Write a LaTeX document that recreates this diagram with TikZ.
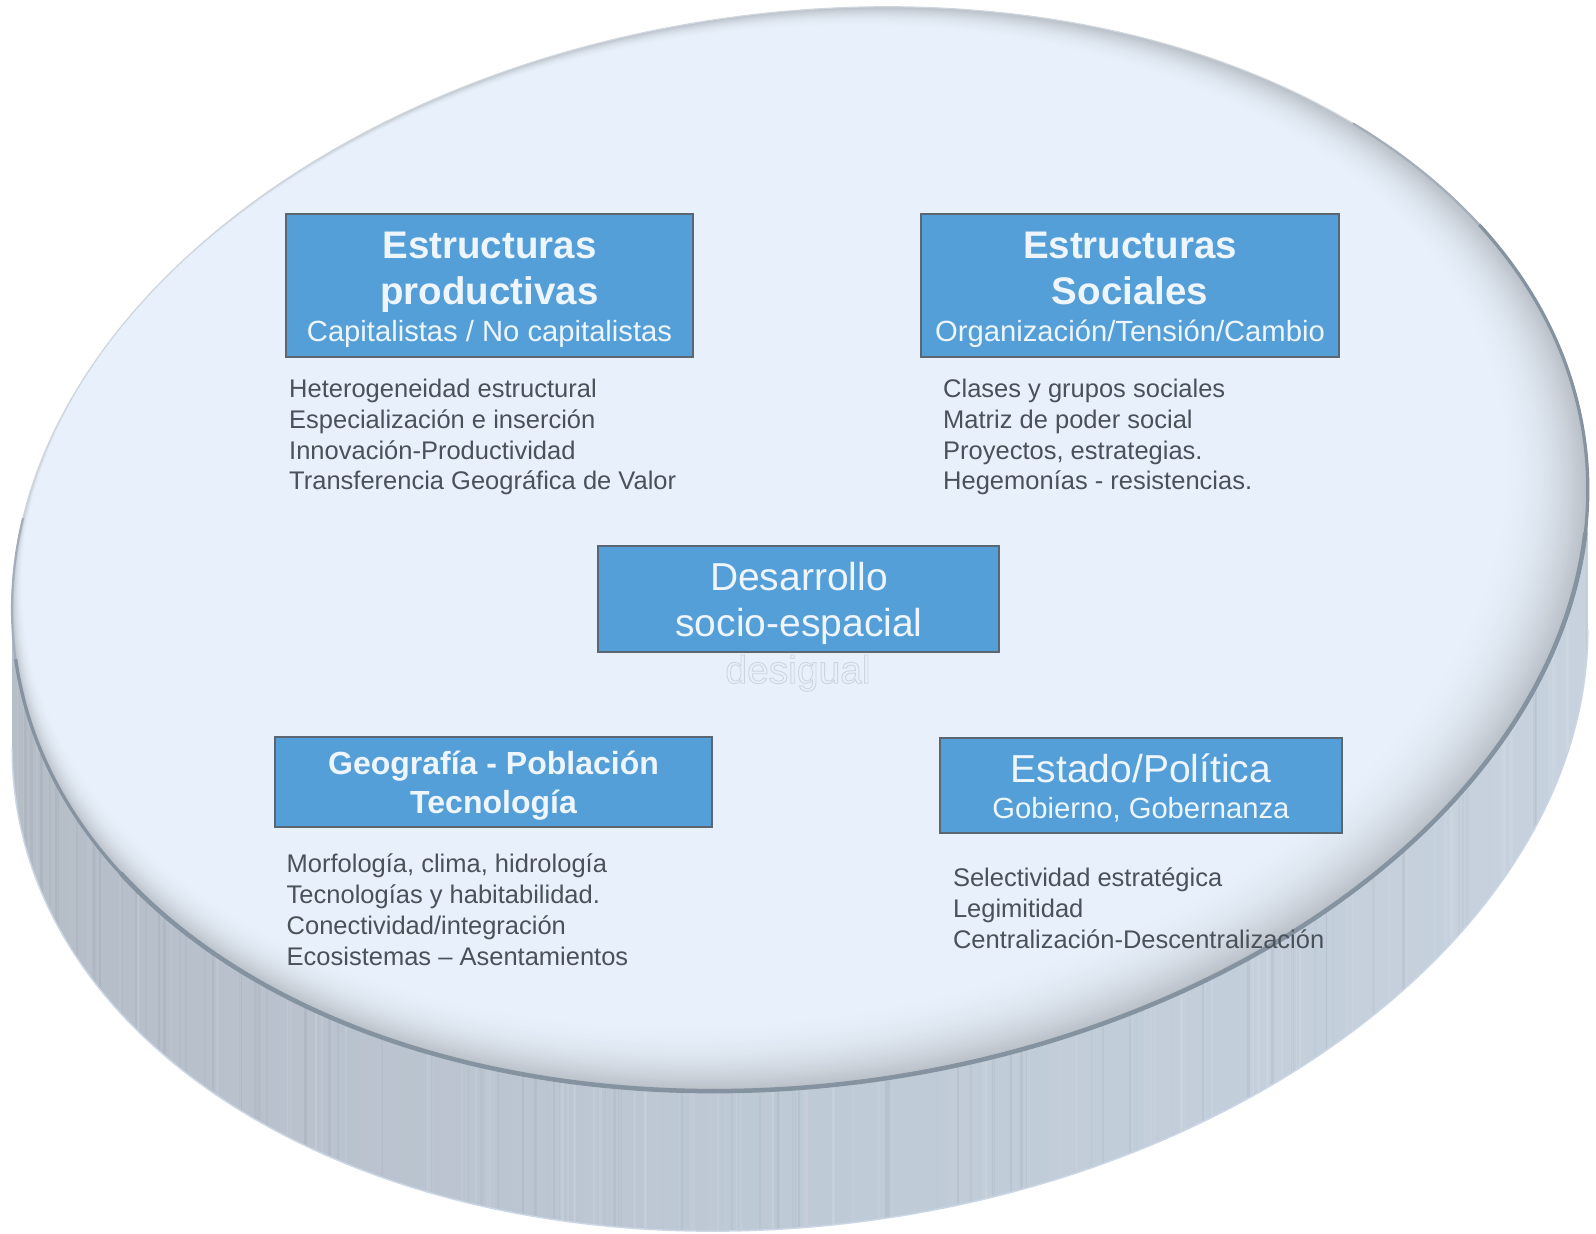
\documentclass[tikz,border=0pt]{standalone}
\usepackage{fontspec}
\setmainfont{Liberation Sans}
\definecolor{boxfill}{HTML}{549FD8}
\definecolor{boxborder}{HTML}{5A6672}
\definecolor{boxtext}{HTML}{EEF5FC}
\definecolor{listtext}{HTML}{4A5159}
\definecolor{facebase}{HTML}{E8F1FB}
\definecolor{facerim}{HTML}{BAC0C8}
\definecolor{edgedark}{HTML}{8592A0}
\definecolor{edgemid}{HTML}{A3AEBA}
\definecolor{edgelight}{HTML}{D0D6DD}
\definecolor{sideL}{HTML}{B5BDC7}
\definecolor{sideM}{HTML}{BFCAD7}
\definecolor{sideR}{HTML}{C7D2DE}
\definecolor{sideedge}{HTML}{CAD6E4}
\definecolor{outl}{HTML}{CDD5DE}
\begin{document}
\begin{tikzpicture}[x=1pt,y=1pt,
  box/.style={draw=boxborder, line width=1.6, fill=boxfill, inner sep=0, rectangle},
  ttl/.style={inner sep=0, text=boxtext, font=\fontsize{38.5}{46}\selectfont\bfseries},
  ttlsm/.style={inner sep=0, text=boxtext, font=\fontsize{32}{39}\selectfont\bfseries},
  big/.style={inner sep=0, text=boxtext, font=\fontsize{39}{46}\selectfont},
  sub/.style={inner sep=0, text=boxtext, font=\fontsize{29.2}{35}\selectfont},
  lst/.style={inner sep=0, text=listtext, font=\fontsize{25.5}{31}\selectfont, anchor=base west}
]
\useasboundingbox (0,0) rectangle (1596,1234);
\fill[white] (0,0) rectangle (1596,1234);

% ---- side of the disk
\begin{scope}
  \clip[shift={(800,685)},rotate=8] (174.57:792 and 536) -- ++(-19.48,-138.64)
     arc[start angle=174.57,end angle=354.57,x radius=792,y radius=536]
     -- ++(19.48,138.64)
     arc[start angle=354.57,end angle=174.57,x radius=792,y radius=536] -- cycle;
  \shade[left color=sideL, right color=sideR, middle color=sideM] (0,0) rectangle (1596,800);
  \pgfmathsetseed{12}
  \foreach \k in {1,...,200}{
    \pgfmathsetmacro\xx{5+1586*rnd}
    \pgfmathsetmacro\ww{0.6+2.4*rnd}
    \pgfmathsetmacro\op{0.03+0.09*rnd}
    \pgfmathsetmacro\wh{rnd}
    \ifdim\wh pt>0.45pt
      \fill[white,opacity=\op] (\xx,0) rectangle ++(\ww,800);
    \else
      \fill[black,opacity=0.35*\op] (\xx,0) rectangle ++(\ww,800);
    \fi
  }
\end{scope}
\draw[sideedge, line width=1.5, shift={(800,685)}, rotate=8] (-19.48,-138.64) ++(174.57:792 and 536)
   arc[start angle=174.57,end angle=354.57,x radius=792,y radius=536];

% ---- top face
\begin{scope}[shift={(800,685)},rotate=8]
  \foreach \i in {0,...,40}{
    \pgfmathsetmacro\s{\i/40}
    \pgfmathsetmacro\p{100*(1-\s)^2}
    \fill[facerim!\p!facebase] (-35*\s,30*\s) ellipse [x radius=792-50*\s, y radius=536-45*\s];
  }
  \draw[edgelight, line width=1.2] (0,0) ellipse [x radius=792, y radius=536];
  \draw[edgemid, line width=2.2] (165:792 and 536) arc[start angle=165,end angle=400,x radius=792,y radius=536];
  \draw[edgedark, line width=3.2] (180:792 and 536) arc[start angle=180,end angle=385,x radius=792,y radius=536];
  \draw[edgedark, line width=4.5] (205:792 and 536) arc[start angle=205,end angle=350,x radius=792,y radius=536];
\end{scope}

% ---- boxes
\node[box, minimum width=407, minimum height=143] (b1) at (489.5,948.5) {};
\node[box, minimum width=418, minimum height=143] (b2) at (1130,948.5) {};
\node[box, minimum width=401, minimum height=106] (bc) at (798.5,635) {};
\node[box, minimum width=437, minimum height=90] (b3) at (493.5,452) {};
\node[box, minimum width=402, minimum height=95] (b4) at (1141,448.5) {};

% ---- box texts
\node[ttl, anchor=base] (t1a) at (489.5,975) {Estructuras};
\node[ttl, anchor=base] (t1b) at (489.5,929) {productivas};
\node[sub, anchor=base] (t1c) at (489.5,892) {Capitalistas / No capitalistas};

\node[ttl, anchor=base] (t2a) at (1130,975) {Estructuras};
\node[ttl, anchor=base] (t2b) at (1130,929) {Sociales};
\node[sub, anchor=base] (t2c) at (1130,892) {Organización/Tensión/Cambio};

\node[big, anchor=base] (tca) at (799,643.3) {Desarrollo};
\node[big, anchor=base] (tcb) at (799,597.3) {socio-espacial};

\node[ttlsm, anchor=base] (t3a) at (493.5,459) {Geografía - Población};
\node[ttlsm, anchor=base] (t3b) at (493.5,420) {Tecnología};

\node[big, anchor=base] (t4a) at (1141,451.7) {Estado/Política};
\node[sub, anchor=base] (t4b) at (1141,415.7) {Gobierno, Gobernanza};

% ---- lists
\node[lst] (l1) at (289,836.5) {\vtop{\baselineskip=30.8pt
  \hbox{Heterogeneidad estructural}
  \hbox{Especialización e inserción}
  \hbox{Innovación-Productividad}
  \hbox{Transferencia Geográfica de Valor}}};
\node[lst] (l2) at (943,836.5) {\vtop{\baselineskip=30.8pt
  \hbox{Clases y grupos sociales}
  \hbox{Matriz de poder social}
  \hbox{Proyectos, estrategias.}
  \hbox{Hegemonías - resistencias.}}};
\node[lst] (l3) at (286.5,361.3) {\vtop{\baselineskip=31pt
  \hbox{Morfología, clima, hidrología}
  \hbox{Tecnologías y habitabilidad.}
  \hbox{Conectividad/integración}
  \hbox{Ecosistemas – Asentamientos}}};
\node[lst] (l4) at (952.8,347.3) {\vtop{\baselineskip=30.8pt
  \hbox{Selectividad estratégica}
  \hbox{Legimitidad}
  \hbox{Centralización-Descentralización}}};

% ---- outlined word
\node[inner sep=0, anchor=base, text=outl, font=\fontsize{39}{46}\selectfont] (dsg) at (798,550.7)
  {\special{pdf:literal direct 1 Tr 0.9 w}desigual\special{pdf:literal direct 0 Tr 0.4 w}};
\end{tikzpicture}
\end{document}
